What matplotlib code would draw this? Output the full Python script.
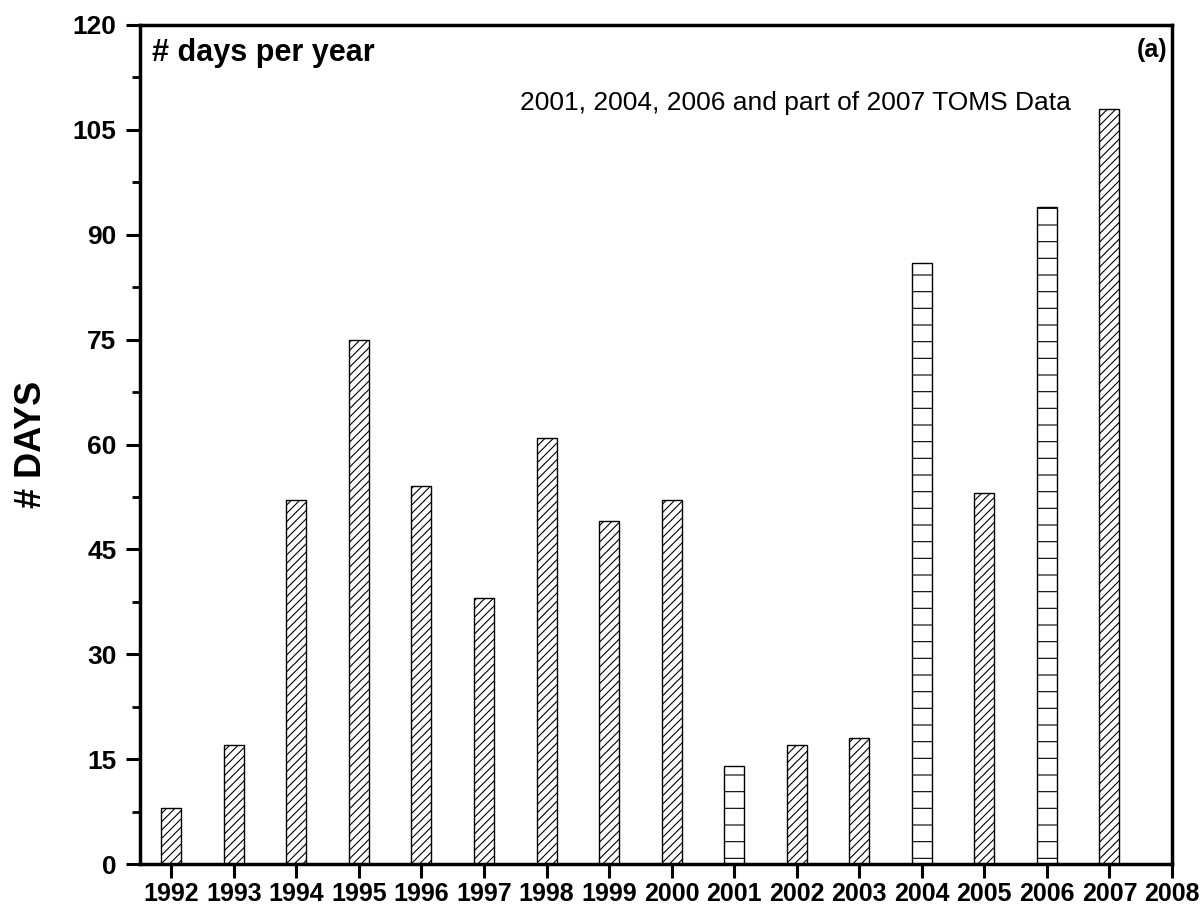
import matplotlib
matplotlib.use("Agg")
import matplotlib.pyplot as plt
import matplotlib.transforms as mtransforms
from matplotlib.ticker import MultipleLocator

years = [1992, 1993, 1994, 1995, 1996, 1997, 1998, 1999, 2000, 2001, 2002, 2003, 2004, 2005, 2006, 2007]
days = [8, 17, 52, 75, 54, 38, 61, 49, 52, 14, 17, 18, 86, 53, 94, 108]
toms_years = [2001, 2004, 2006]
xtick_labels = [str(y) for y in range(1992, 2009)]

plt.rcParams['font.family'] = ['Liberation Sans', 'DejaVu Sans']
plt.rcParams['hatch.linewidth'] = 0.8

fig = plt.figure(figsize=(12.03, 9.09), dpi=100)
ax = fig.add_axes([140/1203, 1 - 864/909, (1172-140)/1203, (864-25)/909])

for y, d in zip(years, days):
    hatch = '-' if y in toms_years else '////'
    ax.bar(y, d, width=0.32, facecolor='white', edgecolor='black', linewidth=1.0, hatch=hatch)

ax.set_xlim(1991.5, 2008)
ax.set_ylim(0, 120)
ax.set_xticks(range(1992, 2009))
ax.set_xticklabels(xtick_labels, fontweight='bold', fontsize=18)
ax.yaxis.set_major_locator(MultipleLocator(15))
ax.yaxis.set_minor_locator(MultipleLocator(7.5))
for lab in ax.get_yticklabels():
    lab.set_fontweight('bold')
    lab.set_fontsize(19)
ax.tick_params(axis='both', which='major', direction='out', length=10, width=2.2)
ax.tick_params(axis='y', which='major', pad=7)
ax.tick_params(axis='x', which='major', pad=3)
ax.tick_params(axis='y', which='minor', direction='out', length=6, width=2.0)
for s in ax.spines.values():
    s.set_linewidth(2.5)

ax.set_ylabel('# DAYS', fontsize=26, fontweight='bold', labelpad=17)
ax.text(0.0116, 0.984, '# days per year', transform=ax.transAxes, fontsize=22,
        fontweight='bold', va='top', ha='left')
ax.text(0.996, 0.984, '(a)', transform=ax.transAxes, fontsize=18,
        fontweight='bold', va='top', ha='right')
blend = mtransforms.blended_transform_factory(ax.transAxes, ax.transData)
ax.text(0.368, 108.8, '2001, 2004, 2006 and part of 2007 TOMS Data',
        transform=blend, fontsize=19, va='center', ha='left')

fig.savefig('out.png', dpi=100)
